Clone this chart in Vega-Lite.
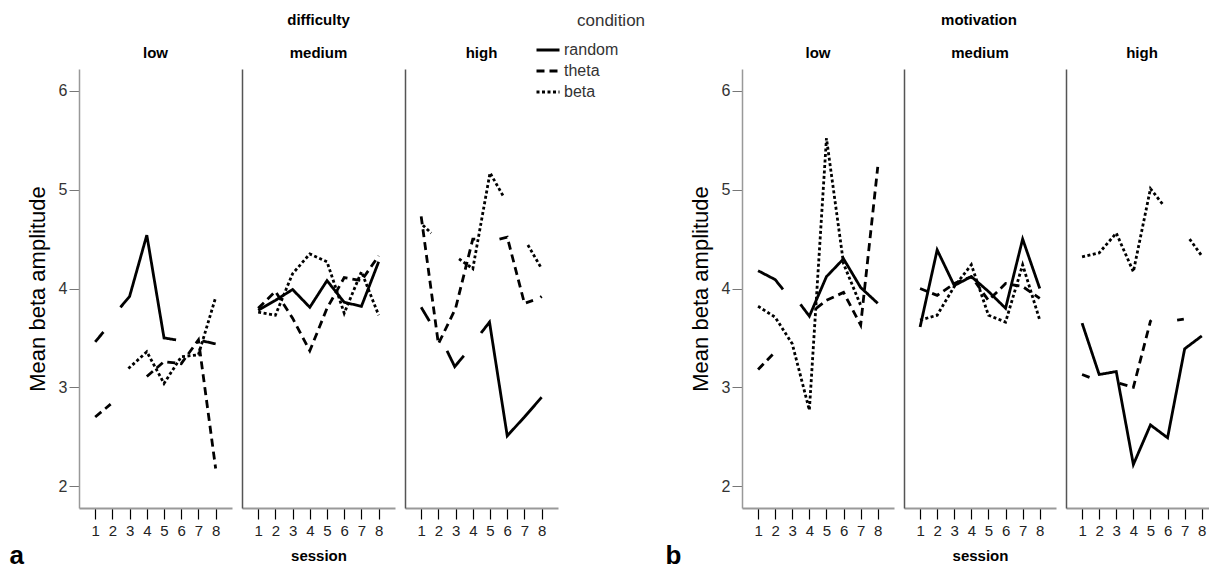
{
 "$schema": "https://vega.github.io/schema/vega-lite/v6.json",
 "padding": {"left": 9, "top": 13, "right": 0, "bottom": 0},
 "background": "white",
 "config": {
  "view": {"stroke": null},
  "font": "Liberation Sans",
  "axis": {"grid": false},
  "axisX": {"tickSize": 11, "tickColor": "black", "tickWidth": 1.2, "domainColor": "#999", "domainWidth": 2, "labelFont": "Liberation Sans", "labelFontSize": 15, "labelColor": "#222", "labelPadding": 4, "labelFlush": false, "labelOverlap": false},
  "title": {"color": "black"}
 },
 "datasets": {
  "d": [
   {"panel":"difficulty","level":"low","condition":"random","seg":"r1","session":1,"amp":3.46},
   {"panel":"difficulty","level":"low","condition":"random","seg":"r1","session":1.48,"amp":3.56},
   {"panel":"difficulty","level":"low","condition":"random","seg":"r2","session":2.47,"amp":3.81},
   {"panel":"difficulty","level":"low","condition":"random","seg":"r2","session":3,"amp":3.92},
   {"panel":"difficulty","level":"low","condition":"random","seg":"r2","session":4,"amp":4.54},
   {"panel":"difficulty","level":"low","condition":"random","seg":"r2","session":5,"amp":3.50},
   {"panel":"difficulty","level":"low","condition":"random","seg":"r2","session":5.7,"amp":3.48},
   {"panel":"difficulty","level":"low","condition":"random","seg":"r3","session":7.23,"amp":3.47},
   {"panel":"difficulty","level":"low","condition":"random","seg":"r3","session":8,"amp":3.44},
   {"panel":"difficulty","level":"low","condition":"theta","seg":"t1","session":1,"amp":2.70},
   {"panel":"difficulty","level":"low","condition":"theta","seg":"t1","session":1.9,"amp":2.83},
   {"panel":"difficulty","level":"low","condition":"theta","seg":"t2","session":4,"amp":3.11},
   {"panel":"difficulty","level":"low","condition":"theta","seg":"t2","session":5,"amp":3.26},
   {"panel":"difficulty","level":"low","condition":"theta","seg":"t2","session":6,"amp":3.24},
   {"panel":"difficulty","level":"low","condition":"theta","seg":"t2","session":7,"amp":3.48},
   {"panel":"difficulty","level":"low","condition":"theta","seg":"t2","session":8,"amp":2.18},
   {"panel":"difficulty","level":"low","condition":"beta","seg":"b1","session":2.93,"amp":3.19},
   {"panel":"difficulty","level":"low","condition":"beta","seg":"b1","session":4,"amp":3.36},
   {"panel":"difficulty","level":"low","condition":"beta","seg":"b1","session":5,"amp":3.04},
   {"panel":"difficulty","level":"low","condition":"beta","seg":"b1","session":6,"amp":3.31},
   {"panel":"difficulty","level":"low","condition":"beta","seg":"b1","session":7,"amp":3.33},
   {"panel":"difficulty","level":"low","condition":"beta","seg":"b1","session":8,"amp":3.91},

   {"panel":"difficulty","level":"medium","condition":"random","seg":"r1","session":1,"amp":3.78},
   {"panel":"difficulty","level":"medium","condition":"random","seg":"r1","session":2,"amp":3.88},
   {"panel":"difficulty","level":"medium","condition":"random","seg":"r1","session":3,"amp":3.99},
   {"panel":"difficulty","level":"medium","condition":"random","seg":"r1","session":4,"amp":3.81},
   {"panel":"difficulty","level":"medium","condition":"random","seg":"r1","session":5,"amp":4.08},
   {"panel":"difficulty","level":"medium","condition":"random","seg":"r1","session":6,"amp":3.86},
   {"panel":"difficulty","level":"medium","condition":"random","seg":"r1","session":7,"amp":3.82},
   {"panel":"difficulty","level":"medium","condition":"random","seg":"r1","session":8,"amp":4.27},
   {"panel":"difficulty","level":"medium","condition":"theta","seg":"t1","session":1,"amp":3.80},
   {"panel":"difficulty","level":"medium","condition":"theta","seg":"t1","session":2,"amp":3.97},
   {"panel":"difficulty","level":"medium","condition":"theta","seg":"t1","session":3,"amp":3.70},
   {"panel":"difficulty","level":"medium","condition":"theta","seg":"t1","session":4,"amp":3.37},
   {"panel":"difficulty","level":"medium","condition":"theta","seg":"t1","session":5,"amp":3.80},
   {"panel":"difficulty","level":"medium","condition":"theta","seg":"t1","session":6,"amp":4.11},
   {"panel":"difficulty","level":"medium","condition":"theta","seg":"t1","session":7,"amp":4.08},
   {"panel":"difficulty","level":"medium","condition":"theta","seg":"t1","session":8,"amp":4.33},
   {"panel":"difficulty","level":"medium","condition":"beta","seg":"b1","session":1,"amp":3.76},
   {"panel":"difficulty","level":"medium","condition":"beta","seg":"b1","session":2,"amp":3.73},
   {"panel":"difficulty","level":"medium","condition":"beta","seg":"b1","session":3,"amp":4.15},
   {"panel":"difficulty","level":"medium","condition":"beta","seg":"b1","session":4,"amp":4.35},
   {"panel":"difficulty","level":"medium","condition":"beta","seg":"b1","session":5,"amp":4.27},
   {"panel":"difficulty","level":"medium","condition":"beta","seg":"b1","session":6,"amp":3.75},
   {"panel":"difficulty","level":"medium","condition":"beta","seg":"b1","session":7,"amp":4.17},
   {"panel":"difficulty","level":"medium","condition":"beta","seg":"b1","session":8,"amp":3.73},

   {"panel":"difficulty","level":"high","condition":"random","seg":"r1","session":1,"amp":3.81},
   {"panel":"difficulty","level":"high","condition":"random","seg":"r1","session":1.48,"amp":3.67},
   {"panel":"difficulty","level":"high","condition":"random","seg":"r2","session":2.5,"amp":3.37},
   {"panel":"difficulty","level":"high","condition":"random","seg":"r2","session":2.95,"amp":3.21},
   {"panel":"difficulty","level":"high","condition":"random","seg":"r2","session":3.48,"amp":3.32},
   {"panel":"difficulty","level":"high","condition":"random","seg":"r3","session":4.48,"amp":3.55},
   {"panel":"difficulty","level":"high","condition":"random","seg":"r3","session":4.97,"amp":3.66},
   {"panel":"difficulty","level":"high","condition":"random","seg":"r3","session":6,"amp":2.51},
   {"panel":"difficulty","level":"high","condition":"random","seg":"r3","session":7,"amp":2.70},
   {"panel":"difficulty","level":"high","condition":"random","seg":"r3","session":8,"amp":2.90},
   {"panel":"difficulty","level":"high","condition":"theta","seg":"t1","session":1,"amp":4.73},
   {"panel":"difficulty","level":"high","condition":"theta","seg":"t1","session":2,"amp":3.44},
   {"panel":"difficulty","level":"high","condition":"theta","seg":"t1","session":3,"amp":3.80},
   {"panel":"difficulty","level":"high","condition":"theta","seg":"t1","session":4,"amp":4.50},
   {"panel":"difficulty","level":"high","condition":"theta","seg":"t1","session":4.35,"amp":4.50},
   {"panel":"difficulty","level":"high","condition":"theta","seg":"t2","session":5.55,"amp":4.50},
   {"panel":"difficulty","level":"high","condition":"theta","seg":"t2","session":6,"amp":4.52},
   {"panel":"difficulty","level":"high","condition":"theta","seg":"t2","session":7,"amp":3.85},
   {"panel":"difficulty","level":"high","condition":"theta","seg":"t2","session":7.5,"amp":3.88},
   {"panel":"difficulty","level":"high","condition":"theta","seg":"t3","session":7.93,"amp":3.91},
   {"panel":"difficulty","level":"high","condition":"theta","seg":"t3","session":8,"amp":3.92},
   {"panel":"difficulty","level":"high","condition":"beta","seg":"b1","session":1.1,"amp":4.64},
   {"panel":"difficulty","level":"high","condition":"beta","seg":"b1","session":1.58,"amp":4.56},
   {"panel":"difficulty","level":"high","condition":"beta","seg":"b2","session":3.2,"amp":4.30},
   {"panel":"difficulty","level":"high","condition":"beta","seg":"b2","session":4,"amp":4.20},
   {"panel":"difficulty","level":"high","condition":"beta","seg":"b2","session":5,"amp":5.17},
   {"panel":"difficulty","level":"high","condition":"beta","seg":"b2","session":5.75,"amp":4.94},
   {"panel":"difficulty","level":"high","condition":"beta","seg":"b3","session":7.2,"amp":4.44},
   {"panel":"difficulty","level":"high","condition":"beta","seg":"b3","session":8,"amp":4.20},

   {"panel":"motivation","level":"low","condition":"random","seg":"r1","session":1,"amp":4.18},
   {"panel":"motivation","level":"low","condition":"random","seg":"r1","session":2,"amp":4.09},
   {"panel":"motivation","level":"low","condition":"random","seg":"r1","session":2.46,"amp":3.99},
   {"panel":"motivation","level":"low","condition":"random","seg":"r2","session":3.48,"amp":3.84},
   {"panel":"motivation","level":"low","condition":"random","seg":"r2","session":4,"amp":3.72},
   {"panel":"motivation","level":"low","condition":"random","seg":"r2","session":5,"amp":4.12},
   {"panel":"motivation","level":"low","condition":"random","seg":"r2","session":6,"amp":4.30},
   {"panel":"motivation","level":"low","condition":"random","seg":"r2","session":7,"amp":4.01},
   {"panel":"motivation","level":"low","condition":"random","seg":"r2","session":8,"amp":3.85},
   {"panel":"motivation","level":"low","condition":"theta","seg":"t1","session":1,"amp":3.18},
   {"panel":"motivation","level":"low","condition":"theta","seg":"t1","session":2,"amp":3.36},
   {"panel":"motivation","level":"low","condition":"theta","seg":"t2","session":4.4,"amp":3.80},
   {"panel":"motivation","level":"low","condition":"theta","seg":"t2","session":5,"amp":3.88},
   {"panel":"motivation","level":"low","condition":"theta","seg":"t2","session":6,"amp":3.96},
   {"panel":"motivation","level":"low","condition":"theta","seg":"t2","session":7,"amp":3.63},
   {"panel":"motivation","level":"low","condition":"theta","seg":"t2","session":8,"amp":5.23},
   {"panel":"motivation","level":"low","condition":"beta","seg":"b1","session":1,"amp":3.82},
   {"panel":"motivation","level":"low","condition":"beta","seg":"b1","session":2,"amp":3.71},
   {"panel":"motivation","level":"low","condition":"beta","seg":"b1","session":3,"amp":3.44},
   {"panel":"motivation","level":"low","condition":"beta","seg":"b1","session":4,"amp":2.77},
   {"panel":"motivation","level":"low","condition":"beta","seg":"b1","session":5,"amp":5.52},
   {"panel":"motivation","level":"low","condition":"beta","seg":"b1","session":6,"amp":4.25},
   {"panel":"motivation","level":"low","condition":"beta","seg":"b1","session":7,"amp":3.83},

   {"panel":"motivation","level":"medium","condition":"random","seg":"r1","session":1,"amp":3.61},
   {"panel":"motivation","level":"medium","condition":"random","seg":"r1","session":2,"amp":4.39},
   {"panel":"motivation","level":"medium","condition":"random","seg":"r1","session":3,"amp":4.03},
   {"panel":"motivation","level":"medium","condition":"random","seg":"r1","session":4,"amp":4.12},
   {"panel":"motivation","level":"medium","condition":"random","seg":"r1","session":5,"amp":3.97},
   {"panel":"motivation","level":"medium","condition":"random","seg":"r1","session":6,"amp":3.80},
   {"panel":"motivation","level":"medium","condition":"random","seg":"r1","session":7,"amp":4.50},
   {"panel":"motivation","level":"medium","condition":"random","seg":"r1","session":8,"amp":4.00},
   {"panel":"motivation","level":"medium","condition":"theta","seg":"t1","session":1,"amp":4.00},
   {"panel":"motivation","level":"medium","condition":"theta","seg":"t1","session":2,"amp":3.93},
   {"panel":"motivation","level":"medium","condition":"theta","seg":"t1","session":3,"amp":4.05},
   {"panel":"motivation","level":"medium","condition":"theta","seg":"t1","session":4,"amp":4.12},
   {"panel":"motivation","level":"medium","condition":"theta","seg":"t1","session":5,"amp":3.88},
   {"panel":"motivation","level":"medium","condition":"theta","seg":"t1","session":6,"amp":4.05},
   {"panel":"motivation","level":"medium","condition":"theta","seg":"t1","session":7,"amp":4.02},
   {"panel":"motivation","level":"medium","condition":"theta","seg":"t1","session":8,"amp":3.90},
   {"panel":"motivation","level":"medium","condition":"beta","seg":"b1","session":1,"amp":3.68},
   {"panel":"motivation","level":"medium","condition":"beta","seg":"b1","session":2,"amp":3.73},
   {"panel":"motivation","level":"medium","condition":"beta","seg":"b1","session":3,"amp":4.02},
   {"panel":"motivation","level":"medium","condition":"beta","seg":"b1","session":4,"amp":4.24},
   {"panel":"motivation","level":"medium","condition":"beta","seg":"b1","session":5,"amp":3.73},
   {"panel":"motivation","level":"medium","condition":"beta","seg":"b1","session":6,"amp":3.66},
   {"panel":"motivation","level":"medium","condition":"beta","seg":"b1","session":7,"amp":4.24},
   {"panel":"motivation","level":"medium","condition":"beta","seg":"b1","session":8,"amp":3.68},

   {"panel":"motivation","level":"high","condition":"random","seg":"r1","session":1,"amp":3.65},
   {"panel":"motivation","level":"high","condition":"random","seg":"r1","session":2,"amp":3.13},
   {"panel":"motivation","level":"high","condition":"random","seg":"r1","session":3,"amp":3.16},
   {"panel":"motivation","level":"high","condition":"random","seg":"r1","session":4,"amp":2.22},
   {"panel":"motivation","level":"high","condition":"random","seg":"r1","session":5,"amp":2.62},
   {"panel":"motivation","level":"high","condition":"random","seg":"r1","session":6,"amp":2.49},
   {"panel":"motivation","level":"high","condition":"random","seg":"r1","session":7,"amp":3.39},
   {"panel":"motivation","level":"high","condition":"random","seg":"r1","session":8,"amp":3.52},
   {"panel":"motivation","level":"high","condition":"theta","seg":"t1","session":1,"amp":3.13},
   {"panel":"motivation","level":"high","condition":"theta","seg":"t1","session":1.45,"amp":3.10},
   {"panel":"motivation","level":"high","condition":"theta","seg":"t2","session":3.2,"amp":3.04},
   {"panel":"motivation","level":"high","condition":"theta","seg":"t2","session":4,"amp":3.00},
   {"panel":"motivation","level":"high","condition":"theta","seg":"t2","session":5,"amp":3.67},
   {"panel":"motivation","level":"high","condition":"theta","seg":"t2","session":5.05,"amp":3.68},
   {"panel":"motivation","level":"high","condition":"theta","seg":"t3","session":6.56,"amp":3.68},
   {"panel":"motivation","level":"high","condition":"theta","seg":"t3","session":6.95,"amp":3.69},
   {"panel":"motivation","level":"high","condition":"beta","seg":"b1","session":1,"amp":4.32},
   {"panel":"motivation","level":"high","condition":"beta","seg":"b1","session":2,"amp":4.36},
   {"panel":"motivation","level":"high","condition":"beta","seg":"b1","session":3,"amp":4.56},
   {"panel":"motivation","level":"high","condition":"beta","seg":"b1","session":4,"amp":4.17},
   {"panel":"motivation","level":"high","condition":"beta","seg":"b1","session":5,"amp":5.01},
   {"panel":"motivation","level":"high","condition":"beta","seg":"b1","session":5.77,"amp":4.84},
   {"panel":"motivation","level":"high","condition":"beta","seg":"b2","session":7.29,"amp":4.50},
   {"panel":"motivation","level":"high","condition":"beta","seg":"b2","session":8,"amp":4.33}
  ]
 },
 "spacing": 107,
 "hconcat": [
  {
   "title": {"text": "difficulty", "fontSize": 15, "fontWeight": "bold", "offset": 18, "anchor": "middle", "frame": "group", "dx": 239.5},
   "spacing": 10,
   "hconcat": [
    {
     "width": 153, "height": 439,
     "title": {"text": "low", "fontSize": 15, "fontWeight": "bold", "offset": 8},
     "data": {"name": "d"},
     "transform": [{"filter": "datum.panel === 'difficulty' && datum.level === 'low'"}],
     "mark": {"type": "line", "strokeWidth": 2.8, "color": "black", "strokeCap": "butt"},
     "encoding": {
      "x": {"field": "session", "type": "quantitative", "scale": {"domain": [0.06, 8.95], "nice": false, "zero": false},
            "axis": {"values": [1,2,3,4,5,6,7,8], "title": "a", "titleFontSize": 26, "titleFontWeight": "bold", "titleX": -70, "titleY": 55, "titleAlign": "left", "titleBaseline": "alphabetic", "titleColor": "black"}},
      "y": {"field": "amp", "type": "quantitative", "scale": {"domain": [1.78, 6.22], "nice": false, "zero": false},
            "axis": {"values": [2,3,4,5,6], "title": "Mean beta amplitude", "titleFontSize": 22, "titleFontWeight": "normal", "titleColor": "black", "titlePadding": 9,
                     "labelFont": "Liberation Sans", "labelFontSize": 16, "labelColor": "#333", "tickSize": 10, "tickColor": "#777", "domainColor": "#999", "domainWidth": 1.5, "labelPadding": 2}},
      "strokeDash": {"field": "condition", "type": "nominal", "scale": {"domain": ["random", "theta", "beta"], "range": [[1, 0], [8, 5], [3, 2.5]]},
            "legend": {"orient": "none", "legendX": 456, "legendY": -56, "title": "condition", "titleFontSize": 17, "titleFontWeight": "normal", "titleColor": "#333", "titleAnchor": "middle", "titleAlign": "left", "titlePadding": 7,
                       "labelFontSize": 16, "labelColor": "#333", "symbolType": "stroke", "symbolSize": 529, "symbolStrokeWidth": 3, "symbolStrokeColor": "black", "rowPadding": -3, "labelOffset": 3}},
      "detail": {"field": "seg"}
     }
    },
    {
     "width": 153, "height": 439,
     "title": {"text": "medium", "fontSize": 15, "fontWeight": "bold", "offset": 8},
     "data": {"name": "d"},
     "transform": [{"filter": "datum.panel === 'difficulty' && datum.level === 'medium'"}],
     "mark": {"type": "line", "strokeWidth": 2.8, "color": "black", "strokeCap": "butt"},
     "encoding": {
      "x": {"field": "session", "type": "quantitative", "scale": {"domain": [0.06, 8.95], "nice": false, "zero": false},
            "axis": {"values": [1,2,3,4,5,6,7,8], "title": "session", "titleFontSize": 15, "titleFontWeight": "bold", "titleX": 76.5, "titleY": 52, "titleAlign": "center", "titleBaseline": "alphabetic", "titleColor": "black"}},
      "y": {"field": "amp", "type": "quantitative", "scale": {"domain": [1.78, 6.22], "nice": false, "zero": false},
            "axis": {"title": null, "labels": false, "ticks": false, "domainColor": "#555", "domainWidth": 1.5}},
      "strokeDash": {"field": "condition", "type": "nominal"},
      "detail": {"field": "seg"}
     }
    },
    {
     "width": 153, "height": 439,
     "title": {"text": "high", "fontSize": 15, "fontWeight": "bold", "offset": 8},
     "data": {"name": "d"},
     "transform": [{"filter": "datum.panel === 'difficulty' && datum.level === 'high'"}],
     "mark": {"type": "line", "strokeWidth": 2.8, "color": "black", "strokeCap": "butt"},
     "encoding": {
      "x": {"field": "session", "type": "quantitative", "scale": {"domain": [0.06, 8.95], "nice": false, "zero": false},
            "axis": {"values": [1,2,3,4,5,6,7,8], "title": null}},
      "y": {"field": "amp", "type": "quantitative", "scale": {"domain": [1.78, 6.22], "nice": false, "zero": false},
            "axis": {"title": null, "labels": false, "ticks": false, "domainColor": "#555", "domainWidth": 1.5}},
      "strokeDash": {"field": "condition", "type": "nominal"},
      "detail": {"field": "seg"}
     }
    }
   ]
  },
  {
   "title": {"text": "motivation", "fontSize": 15, "fontWeight": "bold", "offset": 18, "anchor": "middle", "frame": "group", "dx": 237},
   "spacing": 10,
   "hconcat": [
    {
     "width": 152, "height": 439,
     "title": {"text": "low", "fontSize": 15, "fontWeight": "bold", "offset": 8},
     "data": {"name": "d"},
     "transform": [{"filter": "datum.panel === 'motivation' && datum.level === 'low'"}],
     "mark": {"type": "line", "strokeWidth": 2.8, "color": "black", "strokeCap": "butt"},
     "encoding": {
      "x": {"field": "session", "type": "quantitative", "scale": {"domain": [0.06, 8.95], "nice": false, "zero": false},
            "axis": {"values": [1,2,3,4,5,6,7,8], "title": "b", "titleFontSize": 26, "titleFontWeight": "bold", "titleX": -77, "titleY": 55, "titleAlign": "left", "titleBaseline": "alphabetic", "titleColor": "black"}},
      "y": {"field": "amp", "type": "quantitative", "scale": {"domain": [1.78, 6.22], "nice": false, "zero": false},
            "axis": {"values": [2,3,4,5,6], "title": "Mean beta amplitude", "titleFontSize": 22, "titleFontWeight": "normal", "titleColor": "black", "titlePadding": 9,
                     "labelFont": "Liberation Sans", "labelFontSize": 16, "labelColor": "#333", "tickSize": 10, "tickColor": "#777", "domainColor": "#999", "domainWidth": 1.5, "labelPadding": 2}},
      "strokeDash": {"field": "condition", "type": "nominal"},
      "detail": {"field": "seg"}
     }
    },
    {
     "width": 152, "height": 439,
     "title": {"text": "medium", "fontSize": 15, "fontWeight": "bold", "offset": 8},
     "data": {"name": "d"},
     "transform": [{"filter": "datum.panel === 'motivation' && datum.level === 'medium'"}],
     "mark": {"type": "line", "strokeWidth": 2.8, "color": "black", "strokeCap": "butt"},
     "encoding": {
      "x": {"field": "session", "type": "quantitative", "scale": {"domain": [0.06, 8.95], "nice": false, "zero": false},
            "axis": {"values": [1,2,3,4,5,6,7,8], "title": "session", "titleFontSize": 15, "titleFontWeight": "bold", "titleX": 76, "titleY": 52, "titleAlign": "center", "titleBaseline": "alphabetic", "titleColor": "black"}},
      "y": {"field": "amp", "type": "quantitative", "scale": {"domain": [1.78, 6.22], "nice": false, "zero": false},
            "axis": {"title": null, "labels": false, "ticks": false, "domainColor": "#555", "domainWidth": 1.5}},
      "strokeDash": {"field": "condition", "type": "nominal"},
      "detail": {"field": "seg"}
     }
    },
    {
     "width": 152, "height": 439,
     "title": {"text": "high", "fontSize": 15, "fontWeight": "bold", "offset": 8},
     "data": {"name": "d"},
     "transform": [{"filter": "datum.panel === 'motivation' && datum.level === 'high'"}],
     "mark": {"type": "line", "strokeWidth": 2.8, "color": "black", "strokeCap": "butt"},
     "encoding": {
      "x": {"field": "session", "type": "quantitative", "scale": {"domain": [0.06, 8.95], "nice": false, "zero": false},
            "axis": {"values": [1,2,3,4,5,6,7,8], "title": null}},
      "y": {"field": "amp", "type": "quantitative", "scale": {"domain": [1.78, 6.22], "nice": false, "zero": false},
            "axis": {"title": null, "labels": false, "ticks": false, "domainColor": "#555", "domainWidth": 1.5}},
      "strokeDash": {"field": "condition", "type": "nominal"},
      "detail": {"field": "seg"}
     }
    }
   ]
  }
 ]
}
